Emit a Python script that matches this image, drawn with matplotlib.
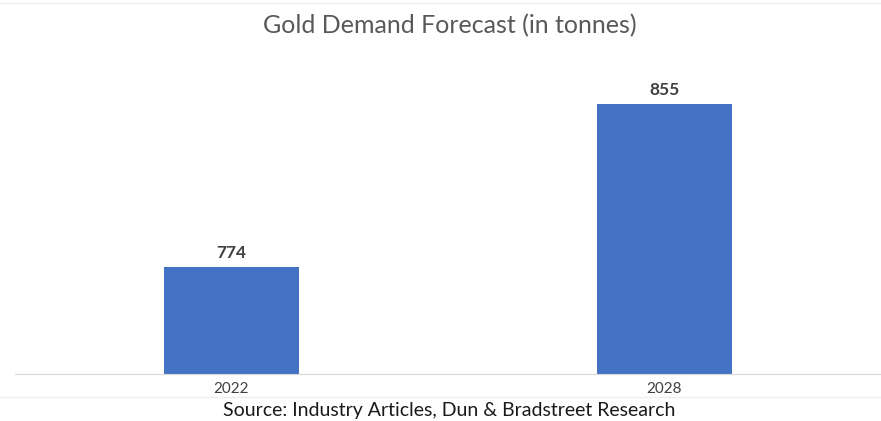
import matplotlib
matplotlib.use('Agg')
import matplotlib.pyplot as plt
from matplotlib.lines import Line2D

# Datos del gráfico
years = ['2022', '2028']
demand = [774, 855]

plt.rcParams['font.family'] = ['Lato', 'DejaVu Sans']

fig = plt.figure(figsize=(8.81, 4.21), dpi=100)
ax = fig.add_axes([0.017, 0.112, 0.983, 0.75])

bars = ax.bar(years, demand, width=0.31, color='#4472C4')
ax.set_xlim(-0.5, 1.5)
ax.set_ylim(721, 878)

# Etiquetas de valor
for b, v in zip(bars, demand):
    ax.text(b.get_x() + b.get_width() / 2, v + 3, str(v), ha='center', va='bottom',
            fontsize=12.5, fontweight='bold', color='#404040')

for s in ['top', 'right', 'left']:
    ax.spines[s].set_visible(False)
ax.spines['bottom'].set_color('#d9d9d9')
ax.set_yticks([])
ax.tick_params(axis='x', length=0, labelsize=11, labelcolor='#404040', pad=6)

fig.text(0.511, 0.94, 'Gold Demand Forecast (in tonnes)', ha='center', va='center',
         fontsize=18, color='#595959')
fig.text(0.51, 0.026, 'Source: Industry Articles, Dun & Bradstreet Research', ha='center',
         va='center', fontsize=14, color='#1a1a1a')

# Líneas finas de fondo
fig.add_artist(Line2D([0, 1], [0.993, 0.993], color='#eeeeee', lw=1))
fig.add_artist(Line2D([0, 1], [0.056, 0.056], color='#eeeeee', lw=1, zorder=0))

fig.savefig('out.png', dpi=100)
